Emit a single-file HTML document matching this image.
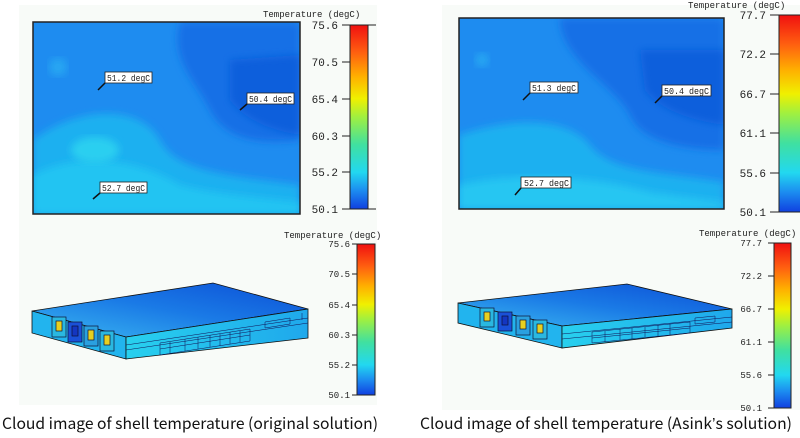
<!DOCTYPE html>
<html><head><meta charset="utf-8"><style>
html,body{margin:0;padding:0;background:#fff;width:800px;height:438px;overflow:hidden}
svg{display:block}
.t{font-family:"Liberation Mono",monospace;font-size:11px;fill:#222}
.s{font-family:"Liberation Mono",monospace;font-size:9px;fill:#222}
.c{font-family:"Noto Sans CJK SC","Liberation Sans",sans-serif;font-size:15.5px;fill:#111}
.ap{font-family:"Liberation Sans",sans-serif}
</style></head><body>
<svg width="800" height="438" viewBox="0 0 800 438" xmlns="http://www.w3.org/2000/svg">
<defs>
<linearGradient id="cb" x1="0" y1="1" x2="0" y2="0">
<stop offset="0" stop-color="#1040e0"/><stop offset="0.1" stop-color="#1c8cf0"/><stop offset="0.2" stop-color="#22d8f0"/>
<stop offset="0.35" stop-color="#40e0a0"/><stop offset="0.5" stop-color="#a0f040"/><stop offset="0.6" stop-color="#f0f000"/>
<stop offset="0.72" stop-color="#ffb000"/><stop offset="0.85" stop-color="#ff6010"/><stop offset="1" stop-color="#f01010"/>
</linearGradient>
<linearGradient id="top" x1="0" y1="1" x2="1" y2="0">
<stop offset="0" stop-color="#3ab6f0"/><stop offset="0.5" stop-color="#1a7ae6"/><stop offset="1" stop-color="#0c4fd6"/>
</linearGradient>
<linearGradient id="front" x1="0" y1="0" x2="1" y2="0">
<stop offset="0" stop-color="#28d0ee"/><stop offset="1" stop-color="#1fa8ec"/>
</linearGradient>
<filter id="bl"><feGaussianBlur stdDeviation="4"/></filter>
<clipPath id="cl1"><rect x="33" y="22" width="267" height="192"/></clipPath>
<clipPath id="cl2"><rect x="459" y="18" width="265" height="191"/></clipPath>
</defs>
<rect x="19" y="5" width="358" height="400" fill="#f8fbf8"/>
<rect x="442" y="5" width="358" height="405" fill="#f8fbf8"/>

<g clip-path="url(#cl1)">
<rect x="33" y="22" width="267" height="192" fill="#1e8cf0"/>
<path d="M180 22 L300 22 L300 140 C260 145 225 140 210 110 C195 80 170 60 180 22Z" fill="#1870e6" filter="url(#bl)"/>
<path d="M230 60 L300 55 L300 135 C270 130 245 120 230 100Z" fill="#0c5fdc" filter="url(#bl)"/>
<path d="M33 140 C80 105 140 105 160 140 C175 170 220 175 300 185 L300 214 L33 214Z" fill="#1eb0f0" filter="url(#bl)"/>
<path d="M33 175 C80 150 140 160 180 185 C220 195 260 197 300 202 L300 214 L33 214Z" fill="#24c4f2" filter="url(#bl)"/>
<ellipse cx="95" cy="150" rx="24" ry="13" fill="#2ccff0" filter="url(#bl)"/>
<circle cx="58" cy="67" r="9" fill="#26a6f2" filter="url(#bl)"/>
</g>
<rect x="33" y="22" width="267" height="192" fill="none" stroke="#222" stroke-width="1.5"/>
<g>
<line x1="98" y1="90" x2="105" y2="83" stroke="#111" stroke-width="1.5"/><rect x="105" y="72" width="47" height="11" fill="#fff" stroke="#222" stroke-width="0.8"/><text class="s" x="107" y="81" textLength="43" lengthAdjust="spacingAndGlyphs">51.2 degC</text>
<line x1="240" y1="110" x2="247" y2="104" stroke="#111" stroke-width="1.5"/><rect x="247" y="93" width="47" height="11" fill="#fff" stroke="#222" stroke-width="0.8"/><text class="s" x="249" y="102" textLength="43" lengthAdjust="spacingAndGlyphs">50.4 degC</text>
<line x1="93" y1="199" x2="100" y2="193" stroke="#111" stroke-width="1.5"/><rect x="100" y="182" width="47" height="11" fill="#fff" stroke="#222" stroke-width="0.8"/><text class="s" x="102" y="191" textLength="43" lengthAdjust="spacingAndGlyphs">52.7 degC</text>
</g>
<text class="s" x="263" y="17">Temperature (degC)</text>
<rect x="350" y="25" width="18" height="184" fill="url(#cb)" stroke="#222"/>
<g stroke="#222"><line x1="342" y1="25" x2="376" y2="25"/><line x1="342" y1="62" x2="350" y2="62"/><line x1="342" y1="99" x2="350" y2="99"/><line x1="342" y1="136" x2="350" y2="136"/><line x1="342" y1="172" x2="350" y2="172"/><line x1="342" y1="209" x2="376" y2="209"/></g>
<g class="t" text-anchor="end"><text x="338" y="29">75.6</text><text x="338" y="66">70.5</text><text x="338" y="103">65.4</text><text x="338" y="140">60.3</text><text x="338" y="176">55.2</text><text x="338" y="213">50.1</text></g>

<g clip-path="url(#cl2)">
<rect x="459" y="18" width="265" height="191" fill="#1e8cf0"/>
<path d="M560 18 L724 18 L724 150 C680 150 640 140 630 115 C615 85 560 60 560 18Z" fill="#1870e6" filter="url(#bl)"/>
<path d="M640 50 L724 50 L724 125 C690 120 660 110 645 90Z" fill="#0c5fdc" filter="url(#bl)"/>
<path d="M459 135 C520 115 570 120 590 145 C610 172 660 172 724 182 L724 209 L459 209Z" fill="#1eb0f0" filter="url(#bl)"/>
<path d="M459 185 C520 170 600 178 650 192 C690 198 710 200 724 202 L724 209 L459 209Z" fill="#26c6f2" filter="url(#bl)"/>
<circle cx="482" cy="60" r="7" fill="#26a6f2" filter="url(#bl)"/>
</g>
<rect x="459" y="18" width="265" height="191" fill="none" stroke="#222" stroke-width="1.5"/>
<g>
<line x1="523" y1="100" x2="530" y2="93" stroke="#111" stroke-width="1.5"/><rect x="530" y="82" width="48" height="11" fill="#fff" stroke="#222" stroke-width="0.8"/><text class="s" x="532" y="91" textLength="44" lengthAdjust="spacingAndGlyphs">51.3 degC</text>
<line x1="655" y1="103" x2="662" y2="96" stroke="#111" stroke-width="1.5"/><rect x="662" y="85" width="49" height="11" fill="#fff" stroke="#222" stroke-width="0.8"/><text class="s" x="664" y="94" textLength="45" lengthAdjust="spacingAndGlyphs">50.4 degC</text>
<line x1="515" y1="195" x2="521" y2="188" stroke="#111" stroke-width="1.5"/><rect x="521" y="177" width="50" height="11" fill="#fff" stroke="#222" stroke-width="0.8"/><text class="s" x="524" y="186" textLength="45" lengthAdjust="spacingAndGlyphs">52.7 degC</text>
</g>
<text class="s" x="688" y="8">Temperature (degC)</text>
<rect x="779" y="15" width="22" height="197" fill="url(#cb)" stroke="#222"/>
<g stroke="#222"><line x1="770" y1="15" x2="779" y2="15"/><line x1="770" y1="54" x2="779" y2="54"/><line x1="770" y1="94" x2="779" y2="94"/><line x1="770" y1="133" x2="779" y2="133"/><line x1="770" y1="173" x2="779" y2="173"/><line x1="770" y1="212" x2="779" y2="212"/></g>
<g class="t" text-anchor="end"><text x="766" y="19">77.7</text><text x="766" y="58">72.2</text><text x="766" y="98">66.7</text><text x="766" y="137">61.1</text><text x="766" y="177">55.6</text><text x="766" y="216">50.1</text></g>

<polygon points="32,311 213,283 308,309 126,337" fill="url(#top)" stroke="#111" stroke-width="0.8"/>
<polygon points="32,311 126,337 126,359 32,333" fill="#22b4ee" stroke="#111" stroke-width="0.8"/>
<polygon points="126,337 308,309 308,338 126,359" fill="url(#front)" stroke="#111" stroke-width="0.8"/>
<g stroke="#113" stroke-width="0.7">
<rect x="52" y="317" width="14" height="20" fill="#2ab8e0"/><rect x="56" y="321" width="6" height="10" fill="#e8d020"/>
<rect x="68" y="322" width="14" height="20" fill="#1a50d8"/><rect x="72" y="326" width="6" height="10" fill="#1436c0"/>
<rect x="84" y="326" width="14" height="20" fill="#2aa0e0"/><rect x="88" y="330" width="6" height="10" fill="#e8d020"/>
<rect x="100" y="331" width="14" height="20" fill="#2ab8e0"/><rect x="104" y="335" width="6" height="10" fill="#e8d020"/>
</g>
<g stroke="#115" stroke-width="0.5" fill="none">
<line x1="126" y1="345" x2="308" y2="318"/><line x1="126" y1="350" x2="308" y2="323"/>
<path d="M160 343 L250 329 L250 341 L160 355Z M185 339 L185 351 M210 335 L210 347 M230 332 L230 344 M160 349 L250 335 M170 342 L170 354 M198 337 L198 349 M220 334 L220 346 M240 331 L240 342"/>
<path d="M265 322 L290 318 L290 324 L265 328Z M302 313 L302 320"/>
</g>
<text class="s" x="284" y="238">Temperature (degC)</text>
<rect x="357" y="244" width="18" height="151" fill="url(#cb)" stroke="#222"/>
<g stroke="#222"><line x1="352" y1="244" x2="357" y2="244"/><line x1="352" y1="274" x2="357" y2="274"/><line x1="352" y1="305" x2="357" y2="305"/><line x1="352" y1="335" x2="357" y2="335"/><line x1="352" y1="365" x2="357" y2="365"/><line x1="352" y1="395" x2="357" y2="395"/></g>
<g class="s" text-anchor="end" font-size="10"><text x="350" y="247">75.6</text><text x="350" y="277">70.5</text><text x="350" y="308">65.4</text><text x="350" y="338">60.3</text><text x="350" y="368">55.2</text><text x="350" y="398">50.1</text></g>

<polygon points="458,303 627,284 732,309 562,326" fill="url(#top)" stroke="#111" stroke-width="0.8"/>
<polygon points="458,303 562,326 562,348 458,323" fill="#22b4ee" stroke="#111" stroke-width="0.8"/>
<polygon points="562,326 732,309 732,328 562,348" fill="url(#front)" stroke="#111" stroke-width="0.8"/>
<g stroke="#113" stroke-width="0.7">
<rect x="480" y="308" width="14" height="19" fill="#2ab8e0"/><rect x="484" y="312" width="6" height="9" fill="#e8d020"/>
<rect x="498" y="312" width="14" height="19" fill="#1a50d8"/><rect x="502" y="316" width="6" height="9" fill="#1436c0"/>
<rect x="516" y="316" width="14" height="19" fill="#2aa0e0"/><rect x="520" y="320" width="6" height="9" fill="#e8d020"/>
<rect x="533" y="320" width="14" height="19" fill="#2ab8e0"/><rect x="537" y="324" width="6" height="9" fill="#e8d020"/>
</g>
<g stroke="#115" stroke-width="0.5" fill="none">
<line x1="562" y1="334" x2="732" y2="317"/><line x1="562" y1="339" x2="732" y2="322"/>
<path d="M592 332 L690 322 L690 333 L592 343Z M620 329 L620 340 M645 327 L645 337 M670 324 L670 335 M592 338 L690 328 M605 331 L605 342 M632 328 L632 339 M658 325 L658 336"/>
<path d="M695 318 L715 316 L715 322 L695 324Z"/>
</g>
<text class="s" x="699" y="236">Temperature (degC)</text>
<rect x="774" y="243" width="17" height="165" fill="url(#cb)" stroke="#222"/>
<g stroke="#222"><line x1="768" y1="243" x2="774" y2="243"/><line x1="768" y1="276" x2="774" y2="276"/><line x1="768" y1="309" x2="774" y2="309"/><line x1="768" y1="342" x2="774" y2="342"/><line x1="768" y1="375" x2="774" y2="375"/><line x1="768" y1="408" x2="774" y2="408"/></g>
<g class="s" text-anchor="end" font-size="10"><text x="762" y="246">77.7</text><text x="762" y="279">72.2</text><text x="762" y="312">66.7</text><text x="762" y="345">61.1</text><text x="762" y="378">55.6</text><text x="762" y="411">50.1</text></g>

<text class="c" x="2" y="429" textLength="376" lengthAdjust="spacingAndGlyphs">Cloud image of shell temperature (original solution)</text>
<text class="c" x="420" y="429" textLength="372" lengthAdjust="spacingAndGlyphs">Cloud image of shell temperature (Asink<tspan class="ap">’</tspan>s solution)</text>
</svg>
</body></html>
